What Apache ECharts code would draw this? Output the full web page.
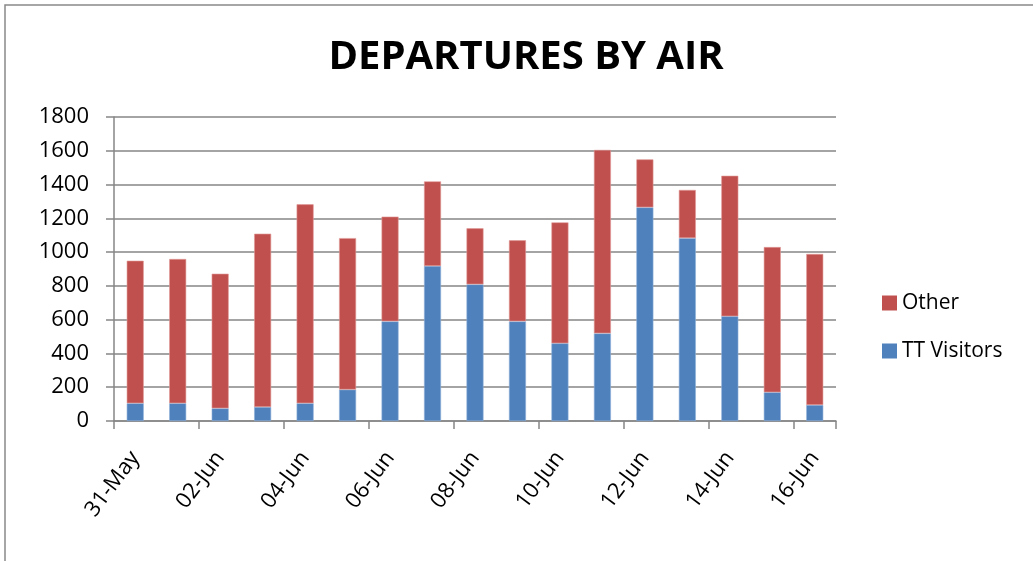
<!DOCTYPE html>
<html><head><meta charset="utf-8">
<script src="https://cdn.jsdelivr.net/npm/echarts@6/dist/echarts.min.js"></script>
<style>html,body{margin:0;padding:0;background:#fff}#c{width:1033px;height:561px}</style>
</head><body><div id="c"></div>
<script>
const categories = ['31-May','01-Jun','02-Jun','03-Jun','04-Jun','05-Jun','06-Jun','07-Jun','08-Jun','09-Jun','10-Jun','11-Jun','12-Jun','13-Jun','14-Jun','15-Jun','16-Jun'];
const ttVisitors = [105,105,75,83,105,186,590,918,809,590,460,519,1265,1083,620,170,95];
const other = [844,854,797,1026,1178,897,620,501,332,480,716,1086,284,285,832,860,894];
const yTicks = {min:0, max:1800, interval:200};

const FONT = '"Open Sans", sans-serif';
const chart = echarts.init(document.getElementById('c'));
chart.setOption({
  animation:false,
  title:{text:'DEPARTURES BY AIR', left:521, top:33, textAlign:'center',
    textStyle:{fontFamily:FONT, fontWeight:'bold', fontSize:40, color:'#000'}},
  graphic:[{type:'rect', shape:{x:5,y:5,width:1100,height:700}, style:{fill:null, stroke:'#898989', lineWidth:1.5}, silent:true}],
  legend:{orient:'vertical', left:877, top:287, itemWidth:15, itemHeight:15, itemGap:26,
    data:['Other','TT Visitors'], icon:'rect', itemStyle:{borderWidth:0},
    textStyle:{fontFamily:FONT, fontSize:21, color:'#000', lineHeight:22}},
  grid:{left:114, right:197, top:117, bottom:140, containLabel:false},
  xAxis:{type:'category', data:categories, boundaryGap:true,
    axisLine:{lineStyle:{color:'#868686', width:1.5}},
    axisTick:{show:true, interval:1, length:8, lineStyle:{color:'#868686', width:1.5}},
    axisLabel:{interval:1, rotate:53, margin:33, fontFamily:FONT, fontSize:22, color:'#000'}},
  yAxis:{type:'value', min:yTicks.min, max:yTicks.max, interval:yTicks.interval,
    axisLine:{show:true, lineStyle:{color:'#868686', width:1.5}},
    axisTick:{show:true, length:8, lineStyle:{color:'#868686', width:1.5}},
    splitLine:{lineStyle:{color:'#868686', width:1.5}},
    axisLabel:{margin:25, fontFamily:FONT, fontSize:22, color:'#000', formatter:function(v){return String(v);}}},
  series:[
    {name:'TT Visitors', type:'bar', stack:'t', data:ttVisitors, barWidth:17,
      itemStyle:{color:'#4F81BD', borderColor:'#8fb0d8', borderWidth:0.6}},
    {name:'Other', type:'bar', stack:'t', data:other, barWidth:17,
      itemStyle:{color:'#C0504D', borderColor:'#e09a98', borderWidth:0.6}}
  ]
});
</script></body></html>
